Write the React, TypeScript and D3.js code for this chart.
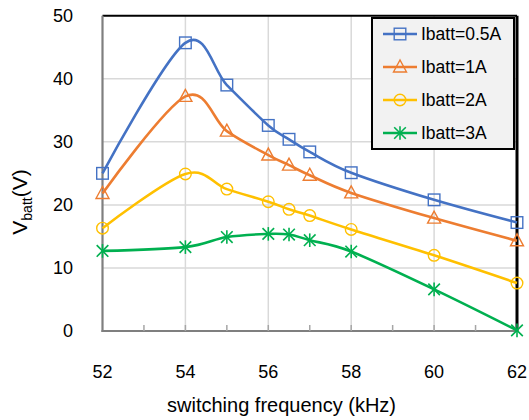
import React from "react";
import * as d3 from "d3";

const freqs = [52, 54, 55, 56, 56.5, 57, 58, 60, 62];
const seriesNames = ["Ibatt=0.5A", "Ibatt=1A", "Ibatt=2A", "Ibatt=3A"];
const v05 = [25.0, 45.7, 39.0, 32.6, 30.4, 28.4, 25.1, 20.8, 17.2];
const v1 = [21.8, 37.2, 31.7, 27.9, 26.3, 24.7, 21.9, 17.9, 14.3];
const v2 = [16.3, 24.9, 22.5, 20.5, 19.3, 18.3, 16.1, 12.0, 7.6];
const v3 = [12.7, 13.3, 14.9, 15.4, 15.3, 14.4, 12.6, 6.6, 0.1];
const xTicks = [52, 54, 56, 58, 60, 62];
const xMinor = [53, 55, 57, 59, 61];
const yTicks = [0, 10, 20, 30, 40, 50];
const colors = ["#4472C4", "#ED7D31", "#FFC000", "#00B050"];
const markers = ["square", "triangle", "circle", "star"];

const W = 529, H = 420;
const L = 102.5, R = 517, T = 15.7, B = 331;

function Marker({ type, x, y, color }: { type: string; x: number; y: number; color: string }) {
  const sw = 1.4;
  if (type === "square") return <rect x={x - 5.8} y={y - 5.8} width={11.6} height={11.6} fill="none" stroke={color} strokeWidth={sw} />;
  if (type === "triangle") {
    const p = `${x},${y - 7} ${x - 6.5},${y + 5} ${x + 6.5},${y + 5}`;
    return <polygon points={p} fill="none" stroke={color} strokeWidth={sw} />;
  }
  if (type === "circle") return <circle cx={x} cy={y} r={5.8} fill="none" stroke={color} strokeWidth={sw} />;
  const s = 5.8;
  return (
    <g stroke={color} strokeWidth={1.6}>
      <line x1={x - s} y1={y - s} x2={x + s} y2={y + s} />
      <line x1={x - s} y1={y + s} x2={x + s} y2={y - s} />
      <line x1={x} y1={y - s - 1} x2={x} y2={y + s + 1} />
    </g>
  );
}

export default function App() {
  const x = d3.scaleLinear().domain([52, 62]).range([L, R]);
  const y = d3.scaleLinear().domain([0, 50]).range([B, T]);
  const data = [v05, v1, v2, v3];
  const line = d3
    .line<[number, number]>()
    .x((d) => x(d[0]))
    .y((d) => y(d[1]))
    .curve(d3.curveCardinal.tension(0));
  const font = "Liberation Sans, Arial, sans-serif";
  const legX = 372, legY = 18, legW = 142, legH = 131;
  return (
    <svg width={W} height={H} style={{ position: "absolute", left: 0, top: 0 }} fontFamily={font}>
      <rect x={0} y={0} width={W} height={H} fill="#fff" />
      {/* gridlines */}
      {yTicks.filter((t) => t > 0 && t < 50).map((t) => (
        <line key={"gy" + t} x1={L} x2={R} y1={y(t)} y2={y(t)} stroke="#d9d9d9" strokeWidth={1.5} />
      ))}
      {xTicks.filter((t) => t > 52 && t < 62).map((t) => (
        <line key={"gx" + t} x1={x(t)} x2={x(t)} y1={T} y2={B} stroke="#d9d9d9" strokeWidth={1.5} />
      ))}
      {/* border */}
      <line x1={L} x2={R} y1={T} y2={T} stroke="#000" strokeWidth={2} />
      <line x1={R} x2={R} y1={T} y2={B} stroke="#000" strokeWidth={3} />
      {/* axes */}
      <line x1={L} x2={L} y1={T} y2={B + 1} stroke="#7f7f7f" strokeWidth={2.2} />
      <line x1={L - 1} x2={R} y1={B} y2={B} stroke="#7f7f7f" strokeWidth={2.2} />
      {xMinor.map((t) => (
        <line key={"mt" + t} x1={x(t)} x2={x(t)} y1={B} y2={B - 6} stroke="#a6a6a6" strokeWidth={1.5} />
      ))}
      {xTicks.filter((t) => t > 52 && t < 62).map((t) => (
        <line key={"mj" + t} x1={x(t)} x2={x(t)} y1={B} y2={B - 6} stroke="#a6a6a6" strokeWidth={1.5} />
      ))}
      {/* series */}
      {data.map((vals, i) => {
        const pts = freqs.map((f, j) => [f, vals[j]] as [number, number]);
        return (
          <g key={"s" + i}>
            <path d={line(pts) || ""} fill="none" stroke={colors[i]} strokeWidth={2.6} />
            {pts.map((p, j) => (
              <Marker key={j} type={markers[i]} x={x(p[0])} y={y(p[1])} color={colors[i]} />
            ))}
          </g>
        );
      })}
      {/* tick labels */}
      {yTicks.map((t) => (
        <text key={"yl" + t} x={73} y={y(t)} dy="0.35em" textAnchor="end" fontSize={18} fill="#000">
          {t}
        </text>
      ))}
      {xTicks.map((t) => (
        <text key={"xl" + t} x={x(t)} y={372} dy="0.35em" textAnchor="middle" fontSize={18} fill="#000">
          {t}
        </text>
      ))}
      <text x={281.5} y={405} dy="0.35em" textAnchor="middle" fontSize={20} fill="#000">
        switching frequency (kHz)
      </text>
      <text transform={`translate(27,202) rotate(-90)`} textAnchor="middle" fontSize={21} fill="#000">
        V<tspan fontSize={14} dy={5}>batt</tspan>
        <tspan dy={-5}>(V)</tspan>
      </text>
      {/* legend */}
      <rect x={legX} y={legY} width={legW} height={legH} fill="#f2f2f2" stroke="#000" strokeWidth={2} />
      {seriesNames.map((n, i) => {
        const cy = 34 + i * 33;
        return (
          <g key={"lg" + i}>
            <line x1={383} x2={417} y1={cy} y2={cy} stroke={colors[i]} strokeWidth={2.6} />
            <Marker type={markers[i]} x={400} y={cy} color={colors[i]} />
            <text x={421} y={cy} dy="0.35em" fontSize={17.5} fill="#000">
              {n}
            </text>
          </g>
        );
      })}
    </svg>
  );
}
